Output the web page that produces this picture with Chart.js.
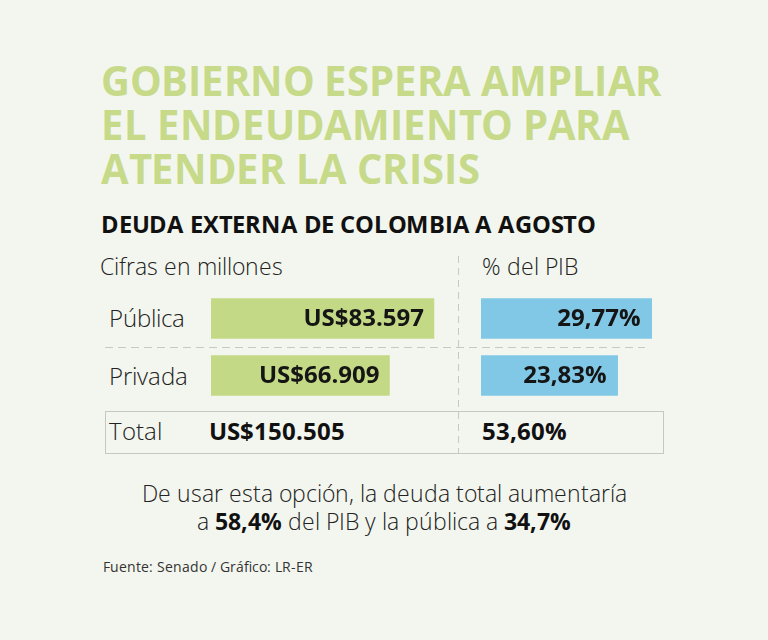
<!DOCTYPE html>
<html>
<head>
<meta charset="utf-8">
<script src="https://cdn.jsdelivr.net/npm/chart.js@4"></script>
<style>
  /* local Open Sans with tighter line boxes, same baseline */
  @font-face { font-family: "OSx"; font-weight: 300; src: local("Open Sans Light"), local("OpenSans-Light"), local("Open Sans");
               ascent-override: 84%; descent-override: 6%; line-gap-override: 0%; }
  @font-face { font-family: "OSx"; font-weight: 400; src: local("Open Sans Regular"), local("OpenSans-Regular"), local("Open Sans");
               ascent-override: 84%; descent-override: 6%; line-gap-override: 0%; }
  @font-face { font-family: "OSx"; font-weight: 700; src: local("Open Sans Bold"), local("OpenSans-Bold");
               ascent-override: 84%; descent-override: 6%; line-gap-override: 0%; }
  html, body { margin: 0; padding: 0; }
  body { width: 768px; height: 640px; background: #f3f6ee; position: relative; overflow: hidden;
         font-family: "OSx", "Open Sans", sans-serif; color: #1e1e1e; }
  .abs { position: absolute; white-space: nowrap; line-height: 1.36; }
  .title { left: 101px; top: 58px; font-size: 42px; font-weight: 700; color: #c6da8a; line-height: 44px; transform-origin: left top; }
  .sub { left: 101px; top: 208px; font-size: 24px; font-weight: 700; color: #111; transform-origin: left top; }
  .lbl { font-size: 22.8px; font-weight: 300; color: #222; }
  .cat { font-size: 23.5px; font-weight: 300; color: #222; }
  .bold { font-size: 24px; font-weight: 700; color: #111; }
  .dashv { left: 458px; top: 256px; width: 1px; height: 197px;
           background: repeating-linear-gradient(to bottom, #c9c9c4 0 7px, transparent 7px 12px); }
  .dashh { left: 105px; top: 347px; width: 540px; height: 1px;
           background: repeating-linear-gradient(to right, #c9c9c4 0 8px, transparent 8px 13px); }
  .box { left: 105px; top: 411px; width: 557px; height: 41px; border: 1px solid #c6c6c2; }
  canvas { position: absolute; }
  .note { left: 0; width: 768px; text-align: center; font-size: 23px; font-weight: 300; color: #222; line-height: 28px; }
  .note b { font-weight: 700; color: #111; }
  .src { left: 103px; top: 557px; font-size: 14px; font-weight: 400; color: #333; }
</style>
</head>
<body>
<div class="abs title fit" data-w="561">GOBIERNO ESPERA AMPLIAR<br>EL ENDEUDAMIENTO PARA<br>ATENDER LA CRISIS</div>
<div class="abs sub fit" data-w="495">DEUDA EXTERNA DE COLOMBIA A AGOSTO</div>

<div class="abs lbl" style="left:100px; top:251px">Cifras en millones</div>
<div class="abs lbl" style="left:482px; top:251px">% del PIB</div>

<div class="abs dashv"></div>
<div class="abs dashh"></div>
<div class="abs box"></div>

<div class="abs cat" id="cat0" style="left:109px; top:302px"></div>
<div class="abs cat" id="cat1" style="left:109px; top:360px"></div>

<div class="abs cat" style="left:109px; top:415px">Total</div>
<div class="abs bold" id="totUsd" style="left:209px; top:415px"></div>
<div class="abs bold" id="totPib" style="left:482px; top:415px"></div>

<canvas id="usdChart" width="240" height="114" style="left:211px; top:290px"></canvas>
<canvas id="pibChart" width="172" height="114" style="left:481px; top:290px"></canvas>

<div class="abs note" style="top:479px">De usar esta opción, la deuda total aumentaría</div>
<div class="abs note" style="top:507px">a <b>58,4%</b> del PIB y la pública a <b>34,7%</b></div>

<div class="abs src">Fuente: Senado / Gráfico: LR-ER</div>

<script>
// data
const categories = ["Pública", "Privada"];
const debtUsd = [83597, 66909];        // millones de US$
const debtPib = [29.77, 23.83];        // % del PIB
const totalUsd = 150505;
const totalPib = 53.60;

const usdLabel = v => "US$" + v.toLocaleString("de-DE");
const pibLabel = v => v.toFixed(2).replace(".", ",") + "%";

document.getElementById('cat0').textContent = categories[0];
document.getElementById('cat1').textContent = categories[1];
document.getElementById('totUsd').textContent = usdLabel(totalUsd);
document.getElementById('totPib').textContent = pibLabel(totalPib);

// squeeze the wide fallback font to the original line widths
function fitAll() {
  document.querySelectorAll('.fit').forEach(el => {
    el.style.transform = 'none';
    const w = Number(el.dataset.w);
    el.style.transform = 'scaleX(' + (w / el.offsetWidth) + ')';
  });
}
fitAll();
if (document.fonts) document.fonts.ready.then(fitAll);

// bar value labels, right aligned inside each bar
const insideLabels = {
  id: 'insideLabels',
  afterDatasetsDraw(chart, args, opts) {
    const ctx = chart.ctx;
    const meta = chart.getDatasetMeta(0);
    ctx.save();
    ctx.font = 'bold 24px "Open Sans", sans-serif';
    ctx.fillStyle = '#151515';
    ctx.textAlign = 'right';
    ctx.textBaseline = 'middle';
    meta.data.forEach((bar, i) => {
      const v = chart.data.datasets[0].data[i];
      ctx.fillText(opts.fmt(v), bar.x - opts.pad, bar.y + 1);
    });
    ctx.restore();
  }
};

function makeChart(id, data, color, max, fmt, pad) {
  return new Chart(document.getElementById(id), {
    type: 'bar',
    data: {
      labels: categories,
      datasets: [{ data: data, backgroundColor: color, barThickness: 40, borderWidth: 0 }]
    },
    options: {
      indexAxis: 'y',
      responsive: false,
      animation: false,
      layout: { padding: 0 },
      scales: {
        x: { display: false, min: 0, max: max },
        y: { display: false }
      },
      plugins: {
        legend: { display: false },
        tooltip: { enabled: false },
        insideLabels: { fmt: fmt, pad: pad }
      }
    },
    plugins: [insideLabels]
  });
}

makeChart('usdChart', debtUsd, '#c4d985', 90000, usdLabel, 10);
makeChart('pibChart', debtPib, '#80c8e5', 30, pibLabel, 11);
</script>
</body>
</html>
